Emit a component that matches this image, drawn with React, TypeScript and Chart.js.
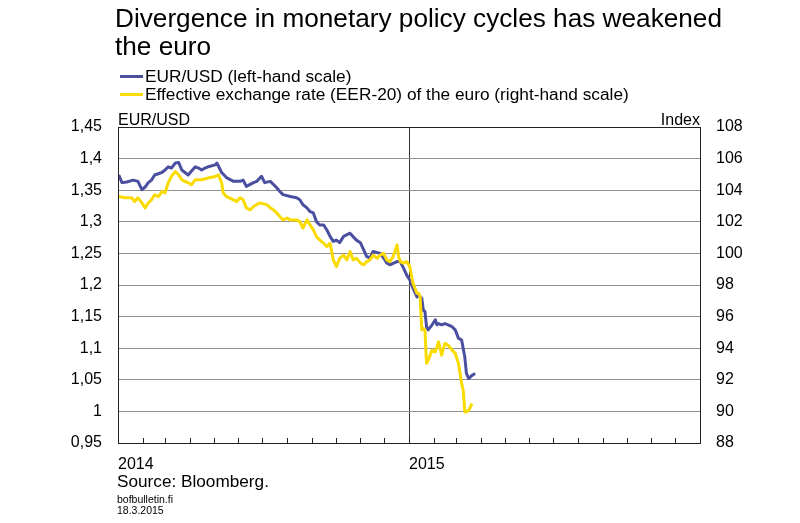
import React, { useEffect, useRef } from "react";
import { Chart, registerables } from "chart.js";

Chart.register(...registerables);

// Days counted from 1 January 2014
const usdDays = [1, 5, 11, 19, 25, 30, 34, 38, 42, 46, 55, 59, 63, 67, 72, 76, 80, 84, 88, 92, 97, 101, 105, 109, 113, 122, 124, 130, 136, 145, 153, 157, 161, 170, 174, 180, 184, 191, 195, 199, 203, 207, 216, 224, 228, 232, 237, 241, 245, 249, 253, 258, 262, 266, 270, 274, 278, 283, 291, 299, 304, 308, 312, 316, 320, 329, 333, 337, 341, 350, 354, 358, 362, 366, 370, 375, 377, 381, 383, 385, 387, 389, 394, 398, 400, 402, 406, 410, 414, 419, 423, 427, 431, 435, 437, 440, 444, 448];
const usdValues = [1.374, 1.362, 1.363, 1.366, 1.364, 1.351, 1.355, 1.362, 1.366, 1.374, 1.378, 1.382, 1.387, 1.385, 1.393, 1.394, 1.382, 1.378, 1.374, 1.38, 1.387, 1.385, 1.382, 1.385, 1.387, 1.39, 1.393, 1.378, 1.37, 1.364, 1.364, 1.366, 1.356, 1.362, 1.364, 1.372, 1.362, 1.364, 1.359, 1.354, 1.348, 1.343, 1.34, 1.338, 1.335, 1.327, 1.322, 1.316, 1.314, 1.3, 1.295, 1.295, 1.287, 1.277, 1.269, 1.271, 1.267, 1.277, 1.282, 1.271, 1.267, 1.256, 1.245, 1.243, 1.253, 1.25, 1.243, 1.235, 1.232, 1.237, 1.237, 1.227, 1.216, 1.208, 1.195, 1.181, 1.184, 1.179, 1.16, 1.158, 1.134, 1.129, 1.137, 1.145, 1.137, 1.139, 1.137, 1.139, 1.137, 1.134, 1.129, 1.116, 1.113, 1.086, 1.06, 1.052, 1.057, 1.06];

const eerDays = [1, 9, 17, 21, 25, 30, 34, 38, 42, 46, 51, 55, 59, 63, 67, 72, 76, 80, 88, 92, 97, 105, 113, 122, 126, 130, 132, 136, 145, 149, 153, 157, 161, 166, 170, 178, 187, 191, 195, 199, 203, 207, 212, 216, 224, 228, 232, 237, 241, 245, 249, 253, 258, 262, 266, 270, 274, 278, 283, 287, 291, 295, 299, 304, 308, 312, 316, 320, 325, 329, 333, 337, 341, 345, 350, 352, 354, 358, 362, 366, 370, 375, 377, 379, 381, 383, 385, 387, 389, 394, 398, 402, 406, 410, 414, 419, 423, 427, 431, 433, 435, 437, 440, 444];
const eerValues = [103.6, 103.52, 103.52, 103.28, 103.52, 103.2, 102.88, 103.2, 103.39, 103.71, 103.6, 103.92, 103.83, 104.47, 104.87, 105.18, 104.98, 104.66, 104.47, 104.34, 104.66, 104.66, 104.77, 104.87, 104.98, 104.47, 103.83, 103.6, 103.39, 103.28, 103.52, 103.39, 102.88, 102.76, 102.97, 103.2, 103.07, 102.88, 102.76, 102.57, 102.33, 102.12, 102.23, 102.12, 102.12, 102.01, 101.61, 102.12, 101.8, 101.49, 101.06, 100.85, 100.64, 100.43, 100.64, 99.59, 99.16, 99.69, 99.9, 99.59, 100.11, 99.59, 99.69, 99.4, 99.27, 99.48, 99.59, 99.9, 99.69, 99.9, 100.01, 99.59, 99.48, 99.79, 100.54, 99.79, 99.48, 99.38, 99.48, 99.16, 98.11, 97.47, 97.47, 97.26, 95.15, 95.25, 95.15, 93.04, 93.24, 93.88, 93.77, 94.4, 93.56, 94.3, 94.2, 93.88, 93.67, 93.04, 91.77, 91.34, 89.97, 89.97, 90.07, 90.5];

// Month starts (days from 1 Jan 2014) used for the small x-axis tick marks
const monthStarts = [0, 31, 59, 90, 120, 151, 181, 212, 243, 273, 304, 334, 365, 396, 424, 455, 485, 516, 546, 577, 608, 638, 669, 699, 730];
const yearLabels: Record<number, string> = { 0: "2014", 365: "2015" };

const titleLines = ["Divergence in monetary policy cycles has weakened", "the euro"];
const seriesNames = ["EUR/USD (left-hand scale)", "Effective exchange rate (EER-20) of the euro (right-hand scale)"];
const BLUE = "#4b4f9f";
const YELLOW = "#fadb00";
const FONT = "'Liberation Sans', Arial, sans-serif";

const framePlugin = {
  id: "frame",
  afterDatasetsDraw(chart: any) {
    const { ctx, chartArea } = chart;
    const xs = chart.scales.x;
    ctx.save();
    ctx.strokeStyle = "#222";
    ctx.lineWidth = 1;
    // month tick marks pointing up from the bottom axis
    ctx.beginPath();
    monthStarts.forEach((d) => {
      const px = Math.round(xs.getPixelForValue(d)) + 0.5;
      ctx.moveTo(px, Math.round(chartArea.bottom));
      ctx.lineTo(px, Math.round(chartArea.bottom) - 5);
    });
    ctx.stroke();
    ctx.strokeRect(
      Math.round(chartArea.left) + 0.5,
      Math.round(chartArea.top) + 0.5,
      Math.round(chartArea.right - chartArea.left),
      Math.round(chartArea.bottom - chartArea.top)
    );
    ctx.restore();
  },
};

export default function App() {
  const ref = useRef<HTMLCanvasElement>(null);

  useEffect(() => {
    if (!ref.current) return;
    const chart = new Chart(ref.current, {
      type: "line",
      data: {
        datasets: [
          {
            label: seriesNames[1],
            data: eerDays.map((d, i) => ({ x: d, y: eerValues[i] })),
            borderColor: YELLOW,
            borderWidth: 3,
            pointRadius: 0,
            yAxisID: "y2",
            order: 0,
            borderJoinStyle: "round",
          },
          {
            label: seriesNames[0],
            data: usdDays.map((d, i) => ({ x: d, y: usdValues[i] })),
            borderColor: BLUE,
            borderWidth: 3,
            pointRadius: 0,
            yAxisID: "y",
            order: 1,
            borderJoinStyle: "round",
          },
        ],
      },
      options: {
        animation: false,
        responsive: true,
        maintainAspectRatio: false,
        layout: { padding: { top: 127, left: 0, right: 0, bottom: 40 } },
        plugins: { legend: { display: false }, tooltip: { enabled: false } },
        scales: {
          x: {
            type: "linear",
            min: 0,
            max: 730,
            afterBuildTicks: (s: any) => {
              s.ticks = monthStarts.map((v) => ({ value: v }));
            },
            afterFit: (s: any) => {
              s.height = 40;
            },
            ticks: {
              autoSkip: false,
              maxRotation: 0,
              align: "start",
              padding: 12,
              color: "#000",
              font: { family: FONT, size: 16 },
              callback: (v: any) => yearLabels[v as number] ?? "",
            },
            grid: {
              drawTicks: false,
              color: (c: any) => (c.tick && c.tick.value === 365 ? "#333" : "rgba(0,0,0,0)"),
              lineWidth: 1,
            },
            border: { display: false },
          },
          y: {
            position: "left",
            min: 0.95,
            max: 1.45,
            afterBuildTicks: (s: any) => {
              const t = [];
              for (let i = 0; i <= 10; i++) t.push({ value: Math.round((0.95 + i * 0.05) * 100) / 100 });
              s.ticks = t;
            },
            afterFit: (s: any) => {
              s.width = 118;
            },
            ticks: {
              padding: 16,
              color: "#000",
              font: { family: FONT, size: 16 },
              callback: (v: any) => String(Math.round(v * 100) / 100).replace(".", ","),
            },
            grid: { drawTicks: false, color: "#8f8f8f", lineWidth: 1 },
            border: { display: false },
          },
          y2: {
            position: "right",
            min: 88,
            max: 108,
            afterFit: (s: any) => {
              s.width = 100;
            },
            ticks: {
              stepSize: 2,
              padding: 16,
              color: "#000",
              font: { family: FONT, size: 16 },
            },
            grid: { display: false, drawTicks: false },
            border: { display: false },
          },
        },
      },
      plugins: [framePlugin],
    });
    return () => chart.destroy();
  }, []);

  const text = (extra: React.CSSProperties): React.CSSProperties => ({
    position: "absolute",
    fontFamily: FONT,
    color: "#000",
    whiteSpace: "nowrap",
    ...extra,
  });

  return (
    <div style={{ position: "fixed", left: 0, top: 0, width: 800, height: 523, background: "#fff" }}>
      <canvas ref={ref} style={{ position: "absolute", left: 0, top: 0 }} />
      <div style={text({ left: 115, top: 4, fontSize: 26.2, lineHeight: "28px" })}>
        {titleLines.map((l) => (
          <div key={l}>{l}</div>
        ))}
      </div>
      {seriesNames.map((n, i) => (
        <React.Fragment key={n}>
          <div
            style={{
              position: "absolute",
              left: 120,
              top: 74.5 + i * 18.5,
              width: 23,
              height: 3,
              background: i === 0 ? BLUE : YELLOW,
            }}
          />
          <div style={text({ left: 145, top: 66.7 + i * 18.3, fontSize: 17.3, lineHeight: "18px" })}>{n}</div>
        </React.Fragment>
      ))}
      <div style={text({ left: 118, top: 110.5, fontSize: 16, lineHeight: "18px" })}>EUR/USD</div>
      <div style={text({ right: 100, top: 110.5, fontSize: 16, lineHeight: "18px" })}>Index</div>
      <div style={text({ left: 117, top: 471.7, fontSize: 17.2, lineHeight: "18px" })}>Source: Bloomberg.</div>
      <div style={text({ left: 117, top: 492.5, fontSize: 10.5, lineHeight: "12px" })}>bofbulletin.fi</div>
      <div style={text({ left: 117, top: 503.5, fontSize: 10.5, lineHeight: "12px" })}>18.3.2015</div>
    </div>
  );
}
